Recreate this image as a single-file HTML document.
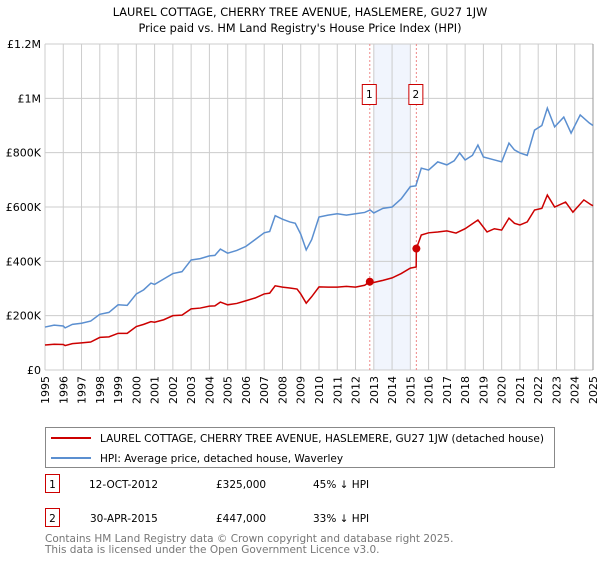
<!DOCTYPE html>
<html><head><meta charset="utf-8"><style>
body{margin:0;background:#fff;font-family:"DejaVu Sans","Liberation Sans",sans-serif;}
svg text{font-family:"DejaVu Sans","Liberation Sans",sans-serif;}
</style></head><body>
<svg width="600" height="560" viewBox="0 0 600 560">
<text x="300" y="16" text-anchor="middle" font-size="11.3" fill="#000">LAUREL COTTAGE, CHERRY TREE AVENUE, HASLEMERE, GU27 1JW</text>
<text x="300" y="32" text-anchor="middle" font-size="11.3" fill="#000">Price paid vs. HM Land Registry's House Price Index (HPI)</text>
<g id="grid"></g>
<g id="plot"></g>
<g id="legend">
<rect x="45.5" y="427.5" width="509" height="40" fill="#fff" stroke="#888"/>
<line x1="51" y1="438" x2="91" y2="438" stroke="#cc0000" stroke-width="2"/>
<text x="100" y="442" font-size="10.5">LAUREL COTTAGE, CHERRY TREE AVENUE, HASLEMERE, GU27 1JW (detached house)</text>
<line x1="51" y1="458" x2="91" y2="458" stroke="#5b8fd0" stroke-width="2"/>
<text x="100" y="462" font-size="10.5">HPI: Average price, detached house, Waverley</text>
</g>
<g>
<rect x="45.5" y="474.5" width="14" height="18" fill="#fff" stroke="#cc0000"/>
<text x="52.5" y="488" font-size="10.5" text-anchor="middle">1</text>
<text x="89" y="488" font-size="10.5">12-OCT-2012</text>
<text x="216" y="488" font-size="10.5">£325,000</text>
<text x="313" y="488" font-size="10.5">45% ↓ HPI</text>
<rect x="45.5" y="508.5" width="14" height="18" fill="#fff" stroke="#cc0000"/>
<text x="52.5" y="522" font-size="10.5" text-anchor="middle">2</text>
<text x="90" y="522" font-size="10.5">30-APR-2015</text>
<text x="216" y="522" font-size="10.5">£447,000</text>
<text x="313" y="522" font-size="10.5">33% ↓ HPI</text>
</g>
<text x="45" y="542" font-size="10.5" fill="#777">Contains HM Land Registry data © Crown copyright and database right 2025.</text>
<text x="45" y="553" font-size="10.5" fill="#777">This data is licensed under the Open Government Licence v3.0.</text>
</svg>
<script>
const yearTicks=[1995,1996,1997,1998,1999,2000,2001,2002,2003,2004,2005,2006,2007,2008,2009,2010,2011,2012,2013,2014,2015,2016,2017,2018,2019,2020,2021,2022,2023,2024,2025];
const priceTicks=[0,200000,400000,600000,800000,1000000,1200000];
const priceTickLabels=["£0","£200K","£400K","£600K","£800K","£1M","£1.2M"];
const hpiTimes=[1995,1995.5,1996,1996.1,1996.5,1997,1997.5,1998,1998.5,1999,1999.5,2000,2000.4,2000.8,2001,2001.5,2002,2002.5,2003,2003.5,2004,2004.3,2004.6,2005,2005.5,2006,2006.5,2007,2007.3,2007.6,2008,2008.4,2008.7,2009,2009.3,2009.6,2010,2010.5,2011,2011.5,2012,2012.5,2012.8,2013,2013.5,2014,2014.5,2015,2015.3,2015.6,2016,2016.5,2017,2017.4,2017.7,2018,2018.4,2018.7,2019,2019.5,2020,2020.4,2020.7,2021,2021.4,2021.8,2022.2,2022.5,2022.9,2023.4,2023.8,2024.3,2024.8,2025];
const hpiValues=[158000,165000,162000,155000,168000,172000,180000,205000,212000,240000,238000,280000,295000,320000,315000,335000,355000,362000,405000,410000,420000,422000,445000,430000,440000,455000,480000,505000,510000,568000,555000,545000,540000,500000,442000,480000,563000,570000,575000,570000,575000,580000,589000,578000,595000,600000,630000,675000,678000,743000,736000,766000,755000,770000,799000,773000,790000,828000,784000,775000,766000,835000,810000,799000,790000,883000,900000,964000,895000,931000,872000,939000,909000,900000];
const priceTimes=[1995,1995.5,1996,1996.1,1996.5,1997,1997.5,1998,1998.5,1999,1999.5,2000,2000.4,2000.8,2001,2001.5,2002,2002.5,2003,2003.5,2004,2004.3,2004.6,2005,2005.5,2006,2006.5,2007,2007.3,2007.6,2008,2008.4,2008.8,2009,2009.3,2009.6,2010,2010.5,2011,2011.5,2012,2012.5,2012.78,2013,2013.5,2014,2014.5,2015,2015.32,2015.33,2015.6,2016,2016.5,2017,2017.5,2018,2018.7,2019.2,2019.6,2020,2020.4,2020.7,2021,2021.4,2021.8,2022.2,2022.5,2022.9,2023.5,2023.9,2024.5,2024.9,2025];
const priceValues=[92000,95000,94000,90000,97000,100000,103000,120000,122000,135000,135000,160000,168000,178000,176000,185000,200000,202000,225000,228000,235000,236000,250000,240000,245000,255000,265000,280000,283000,310000,305000,302000,298000,280000,246000,270000,306000,305000,305000,308000,305000,312000,325000,322000,330000,339000,355000,375000,379000,447000,497000,505000,508000,512000,504000,520000,552000,508000,520000,515000,559000,540000,534000,545000,589000,595000,644000,600000,618000,581000,626000,608000,605000];
const saleTimes=[2012.78,2015.33];
const saleValues=[325000,447000];
const saleLabels=["1","2"];

const NS="http://www.w3.org/2000/svg";
const L=45,R=593,T=44,B=370;
const x=t=>L+(t-1995)/30*(R-L);
const y=v=>B-v/1200000*(B-T);
function mk(tag,attrs,parent){const e=document.createElementNS(NS,tag);for(const k in attrs)e.setAttribute(k,attrs[k]);parent.appendChild(e);return e;}
const grid=document.getElementById('grid'),plot=document.getElementById('plot');
const shade=mk('rect',{x:x(2013),y:T,width:x(2015)-x(2013),height:B-T,fill:'#eef3fd',opacity:0.8},grid);


yearTicks.forEach(yr=>{
  const l=mk('line',{x1:x(yr),x2:x(yr),y1:T,y2:B,stroke:'#cccccc','stroke-width':1},grid);
  
  
  const tx=mk('text',{transform:`translate(${x(yr)+4},${B+6}) rotate(-90)`,'text-anchor':'end','font-size':11,fill:'#000'},grid);
  tx.textContent=yr;
  
  
});
priceTicks.forEach((v,i)=>{
  const l=mk('line',{x1:L,x2:R,y1:y(v),y2:y(v),stroke:'#cccccc','stroke-width':1},grid);
  
  
  const tx=mk('text',{x:L-4,y:y(v)+4,'text-anchor':'end','font-size':11,fill:'#000'},grid);
  tx.textContent=priceTickLabels[i];
  
  
});
const ax=mk('line',{x1:R,x2:R,y1:T,y2:B,stroke:'#999','stroke-width':1},grid);


saleTimes.forEach((t,i)=>{
  const l=mk('line',{x1:x(t),x2:x(t),y1:T,y2:B,stroke:'#e88','stroke-width':1,'stroke-dasharray':'2,2'},plot);
  
  
  const r=mk('rect',{x:x(t)-7.5,y:84.5,width:14,height:20,fill:'#fff',stroke:'#cc0000'},plot);
  
  
  const tx=mk('text',{x:x(t)-0.5,y:98,'text-anchor':'middle','font-size':10.5},plot);
  tx.textContent=saleLabels[i];
  
  
});
const hp=mk('polyline',{points:hpiTimes.map((t,i)=>x(t)+','+y(hpiValues[i])).join(' '),fill:'none',stroke:'#5b8fd0','stroke-width':1.5},plot);


const pp=mk('polyline',{points:priceTimes.map((t,i)=>x(t)+','+y(priceValues[i])).join(' '),fill:'none',stroke:'#cc0000','stroke-width':1.5},plot);


saleTimes.forEach((t,i)=>{
  const c=mk('circle',{cx:x(t),cy:y(saleValues[i]),r:4,fill:'#cc0000'},plot);
  
  
});
</script>
</body></html>
